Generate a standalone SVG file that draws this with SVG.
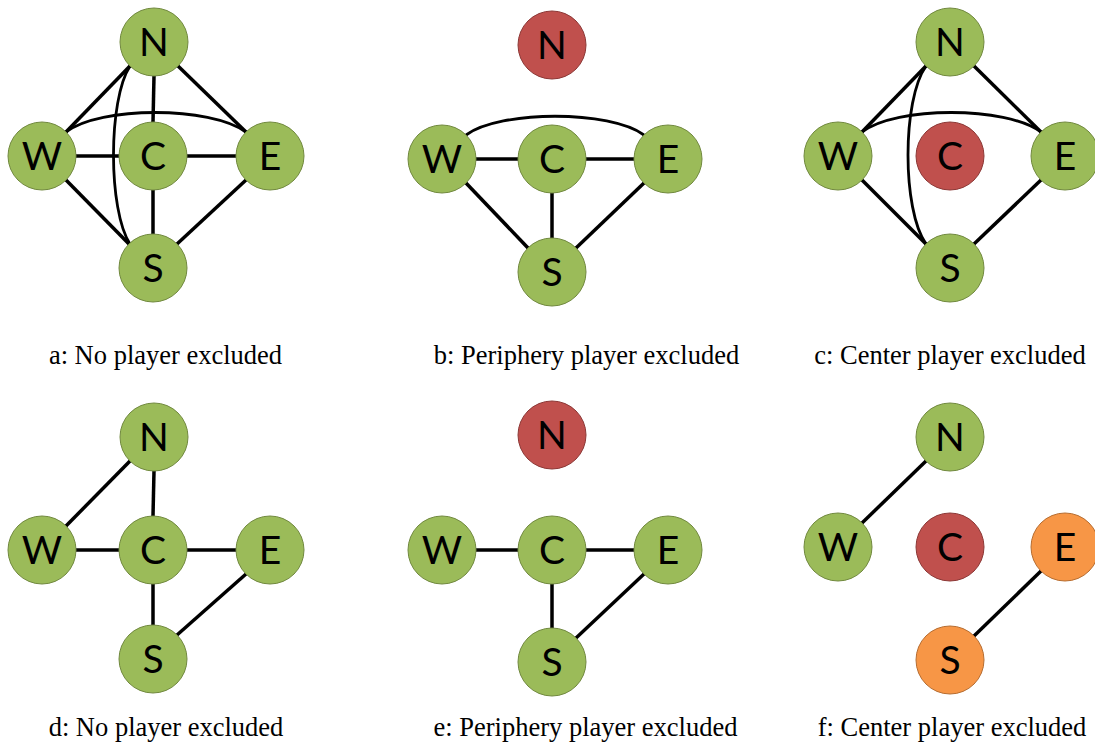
<svg xmlns="http://www.w3.org/2000/svg" width="1095" height="742" viewBox="0 0 1095 742">
<style>
.g{fill:#9BBB59;stroke:#71893F;stroke-width:1}
.r{fill:#C0504D;stroke:#8C3836;stroke-width:1}
.o{fill:#F79646;stroke:#B66D31;stroke-width:1}
.lbl{font-family:Lato,"Open Sans",sans-serif;font-size:39px;text-anchor:middle;fill:#000}
.cap{font-family:"Liberation Serif","Times New Roman",serif;font-size:26.5px;text-anchor:middle;fill:#000}
.e{stroke:#000;stroke-width:3.5;fill:none}
.arc{stroke:#000;stroke-width:2.8;fill:none}
</style>
<rect width="1095" height="742" fill="#fff"/>
<g id="connectors">
<!-- panel a -->
<line class="e" x1="130" y1="66" x2="66" y2="132"/>
<line class="e" x1="178" y1="66" x2="246" y2="132"/>
<line class="e" x1="154" y1="76" x2="153" y2="122"/>
<line class="e" x1="76" y1="156" x2="119" y2="156"/>
<line class="e" x1="187" y1="156" x2="236" y2="156"/>
<line class="e" x1="153" y1="190" x2="153" y2="234"/>
<line class="e" x1="66" y1="180" x2="129" y2="244"/>
<line class="e" x1="246" y1="180" x2="177" y2="244"/>
<path class="arc" d="M66,132 C100,106 210,106 246,132"/>
<path class="arc" d="M130,66 C108,100 108,210 130,244"/>
<!-- panel b -->
<line class="e" x1="476" y1="159" x2="518" y2="159"/>
<line class="e" x1="586" y1="159" x2="634" y2="159"/>
<line class="e" x1="552" y1="193" x2="552" y2="238"/>
<line class="e" x1="466" y1="183" x2="528" y2="248"/>
<line class="e" x1="644" y1="183" x2="576" y2="248"/>
<path class="arc" d="M466,135 C500,110 610,110 644,135"/>
<!-- panel c -->
<line class="e" x1="926" y1="66" x2="862" y2="132"/>
<line class="e" x1="974" y1="66" x2="1041" y2="132"/>
<line class="e" x1="862" y1="180" x2="926" y2="244"/>
<line class="e" x1="1041" y1="180" x2="974" y2="244"/>
<path class="arc" d="M862,132 C896,106 1006,106 1041,132"/>
<path class="arc" d="M926,66 C902,100 902,210 926,244"/>
<!-- panel d -->
<line class="e" x1="130" y1="461" x2="66" y2="526"/>
<line class="e" x1="154" y1="471" x2="153" y2="516"/>
<line class="e" x1="76" y1="550" x2="119" y2="550"/>
<line class="e" x1="187" y1="550" x2="236" y2="550"/>
<line class="e" x1="153" y1="584" x2="153" y2="625"/>
<line class="e" x1="246" y1="574" x2="177" y2="635"/>
<!-- panel e -->
<line class="e" x1="476" y1="550" x2="518" y2="550"/>
<line class="e" x1="586" y1="550" x2="634" y2="550"/>
<line class="e" x1="552" y1="584" x2="552" y2="628"/>
<line class="e" x1="644" y1="574" x2="576" y2="638"/>
<!-- panel f -->
<line class="e" x1="926" y1="461" x2="862" y2="523"/>
<line class="e" x1="1041" y1="571" x2="974" y2="636"/>
</g>
<!-- panel a nodes -->
<g id="a-N"><circle class="g" cx="154" cy="42" r="34"/><text class="lbl" x="154" y="56">N</text></g>
<g id="a-W"><circle class="g" cx="42" cy="156" r="34"/><text class="lbl" x="42" y="170">W</text></g>
<g id="a-C"><circle class="g" cx="153" cy="156" r="34"/><text class="lbl" x="153" y="170">C</text></g>
<g id="a-E"><circle class="g" cx="270" cy="156" r="34"/><text class="lbl" x="270" y="170">E</text></g>
<g id="a-S"><circle class="g" cx="153" cy="268" r="34"/><text class="lbl" x="153" y="282">S</text></g>
<!-- panel b nodes -->
<g id="b-N"><circle class="r" cx="552" cy="45" r="34"/><text class="lbl" x="552" y="59">N</text></g>
<g id="b-W"><circle class="g" cx="442" cy="159" r="34"/><text class="lbl" x="442" y="173">W</text></g>
<g id="b-C"><circle class="g" cx="552" cy="159" r="34"/><text class="lbl" x="552" y="173">C</text></g>
<g id="b-E"><circle class="g" cx="668" cy="159" r="34"/><text class="lbl" x="668" y="173">E</text></g>
<g id="b-S"><circle class="g" cx="552" cy="272" r="34"/><text class="lbl" x="552" y="286">S</text></g>
<!-- panel c nodes -->
<g id="c-N"><circle class="g" cx="950" cy="42" r="34"/><text class="lbl" x="950" y="56">N</text></g>
<g id="c-W"><circle class="g" cx="838" cy="156" r="34"/><text class="lbl" x="838" y="170">W</text></g>
<g id="c-C"><circle class="r" cx="950" cy="156" r="34"/><text class="lbl" x="950" y="170">C</text></g>
<g id="c-E"><circle class="g" cx="1065" cy="156" r="34"/><text class="lbl" x="1065" y="170">E</text></g>
<g id="c-S"><circle class="g" cx="950" cy="268" r="34"/><text class="lbl" x="950" y="282">S</text></g>
<!-- panel d nodes -->
<g id="d-N"><circle class="g" cx="154" cy="437" r="34"/><text class="lbl" x="154" y="451">N</text></g>
<g id="d-W"><circle class="g" cx="42" cy="550" r="34"/><text class="lbl" x="42" y="564">W</text></g>
<g id="d-C"><circle class="g" cx="153" cy="550" r="34"/><text class="lbl" x="153" y="564">C</text></g>
<g id="d-E"><circle class="g" cx="270" cy="550" r="34"/><text class="lbl" x="270" y="564">E</text></g>
<g id="d-S"><circle class="g" cx="153" cy="659" r="34"/><text class="lbl" x="153" y="673">S</text></g>
<!-- panel e nodes -->
<g id="e-N"><circle class="r" cx="552" cy="435" r="34"/><text class="lbl" x="552" y="449">N</text></g>
<g id="e-W"><circle class="g" cx="442" cy="550" r="34"/><text class="lbl" x="442" y="564">W</text></g>
<g id="e-C"><circle class="g" cx="552" cy="550" r="34"/><text class="lbl" x="552" y="564">C</text></g>
<g id="e-E"><circle class="g" cx="668" cy="550" r="34"/><text class="lbl" x="668" y="564">E</text></g>
<g id="e-S"><circle class="g" cx="552" cy="662" r="34"/><text class="lbl" x="552" y="676">S</text></g>
<!-- panel f nodes -->
<g id="f-N"><circle class="g" cx="950" cy="437" r="34"/><text class="lbl" x="950" y="451">N</text></g>
<g id="f-W"><circle class="g" cx="838" cy="547" r="34"/><text class="lbl" x="838" y="561">W</text></g>
<g id="f-C"><circle class="r" cx="950" cy="547" r="34"/><text class="lbl" x="950" y="561">C</text></g>
<g id="f-E"><circle class="o" cx="1065" cy="547" r="34"/><text class="lbl" x="1065" y="561">E</text></g>
<g id="f-S"><circle class="o" cx="950" cy="660" r="34"/><text class="lbl" x="950" y="674">S</text></g>
<g id="captions">
<text class="cap" x="165.5" y="364">a: No player excluded</text>
<text class="cap" x="586.5" y="364">b: Periphery player excluded</text>
<text class="cap" x="950" y="364">c: Center player excluded</text>
<text class="cap" x="166" y="736">d: No player excluded</text>
<text class="cap" x="585.5" y="736">e: Periphery player excluded</text>
<text class="cap" x="952" y="736">f: Center player excluded</text>
</g>
</svg>
